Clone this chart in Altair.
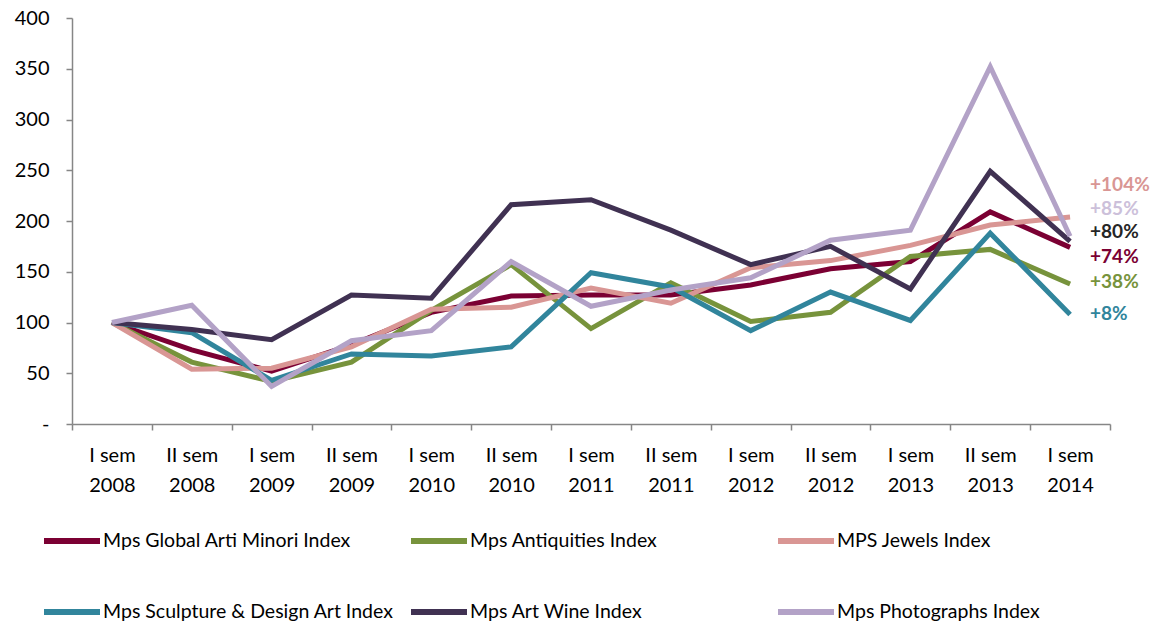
import json
import altair as alt
import pandas as pd

categories = ["I sem 2008", "II sem 2008", "I sem 2009", "II sem 2009", "I sem 2010",
              "II sem 2010", "I sem 2011", "II sem 2011", "I sem 2012", "II sem 2012",
              "I sem 2013", "II sem 2013", "I sem 2014"]

series_names = ["Mps Global Arti Minori Index", "Mps Antiquities Index", "MPS Jewels Index",
                "Mps Sculpture & Design Art Index", "Mps Art Wine Index", "Mps Photographs Index"]

global_arti = [100, 73, 52, 78, 110, 126, 127, 127, 137, 153, 160, 209, 174]
antiquities = [100, 61, 42, 61, 112, 157, 94, 139, 101, 110, 165, 172, 138]
jewels = [100, 54, 55, 76, 113, 115, 134, 119, 154, 161, 176, 196, 204]
sculpture = [100, 90, 43, 69, 67, 76, 149, 135, 92, 130, 102, 188, 108]
art_wine = [100, 93, 83, 127, 124, 216, 221, 191, 157, 175, 133, 249, 180]
photographs = [100, 117, 37, 82, 92, 160, 116, 132, 144, 181, 191, 352, 185]

end_labels = ["+74%", "+38%", "+104%", "+8%", "+80%", "+85%"]

y_ticks = [0, 50, 100, 150, 200, 250, 300, 350, 400]

# styles
line_colors = ["#7B0033", "#77933C", "#D99694", "#31859C", "#403152", "#B3A2C7"]
label_colors = ["#7B0033", "#77933C", "#D99694", "#31859C", "#262626", "#CCC0DA"]
label_dy = [10, -2, -32, 0, -9, -27]
FONT = "Lato"
AXIS_COLOR = "#868686"

all_series = [global_arti, antiquities, jewels, sculpture, art_wine, photographs]

rows = []
for name, vals in zip(series_names, all_series):
    for j, v in enumerate(vals):
        rows.append({"series": name, "idx": j, "value": v})
df = pd.DataFrame(rows)

n = len(categories)
label_lines = [c.rsplit(" ", 1) for c in categories]
x_scale = alt.Scale(domain=[-0.5, n - 0.5], nice=False, zero=False)
y_scale = alt.Scale(domain=[0, 400], nice=False)

tick_axis = alt.Axis(values=[i - 0.5 for i in range(n + 1)], labels=False, title=None,
                     grid=False, tickSize=6, tickColor=AXIS_COLOR, tickWidth=1.5,
                     domainColor=AXIS_COLOR, domainWidth=1.5, orient="bottom")
label_axis = alt.Axis(values=list(range(n)), ticks=False, domain=False, title=None,
                      grid=False, orient="bottom",
                      labelExpr=f"{json.dumps(label_lines)}[datum.value]",
                      labelFont=FONT, labelFontSize=20, labelColor="#000000",
                      labelLineHeight=30, labelPadding=21, labelAngle=0,
                      labelBaseline="top")

y_axis = alt.Axis(values=y_ticks, title=None, grid=False, tickSize=6,
                  tickColor=AXIS_COLOR, tickWidth=1.5, domainColor=AXIS_COLOR,
                  domainWidth=1.5, labelFont=FONT, labelFontSize=20, labelColor="#000000",
                  labelPadding=17,
                  labelExpr="datum.value == 0 ? '-' : datum.label")

lines = alt.Chart(df).mark_line(strokeWidth=5).encode(
    x=alt.X("idx:Q", scale=x_scale, axis=tick_axis),
    y=alt.Y("value:Q", scale=y_scale, axis=y_axis),
    color=alt.Color("series:N",
                    scale=alt.Scale(domain=series_names, range=line_colors),
                    legend=alt.Legend(orient="none", legendX=-31, legendY=492,
                                      columns=3, direction="horizontal", title=None,
                                      symbolType="stroke",
                                      symbolSize=3136, symbolStrokeWidth=6,
                                      labelFont=FONT, labelFontSize=19.5,
                                      labelColor="#000000", labelOffset=0,
                                      labelLimit=0, columnPadding=5, rowPadding=28,
                                      gridAlign="all")),
    order=alt.Order("idx:Q"),
)

ends = pd.DataFrame({
    "series": series_names,
    "idx": [n - 1] * len(series_names),
    "value": [s[-1] for s in all_series],
    "text": end_labels,
})

layers = [lines]
for i, name in enumerate(series_names):
    t = alt.Chart(ends[ends["series"] == name]).mark_text(
        align="left", baseline="middle", dx=20, dy=label_dy[i], font=FONT,
        fontSize=19, fontWeight="bold", color=label_colors[i]
    ).encode(
        x=alt.X("idx:Q", scale=x_scale, axis=label_axis if i == 0 else None),
        y=alt.Y("value:Q", scale=y_scale),
        text="text:N",
    )
    layers.append(t)

chart = alt.layer(*layers).resolve_axis(x="independent").properties(
    width=1038, height=406,
    padding={"left": 72, "top": 18, "right": 45, "bottom": 199},
    autosize=alt.AutoSizeParams(type="none"),
    background="#ffffff",
).configure_view(stroke=None)

chart.save("out.html", embed_options={"renderer": "svg", "actions": False})
